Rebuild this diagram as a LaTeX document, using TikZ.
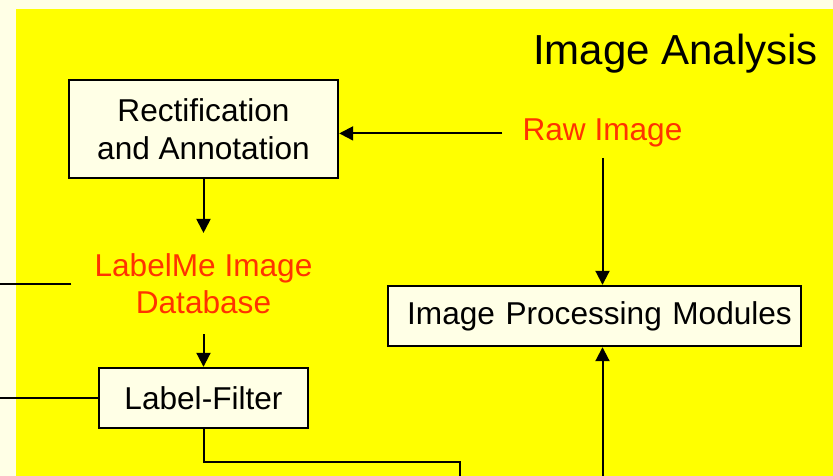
\documentclass[tikz,border=0pt]{standalone}
\usepackage{fontspec}
\setmainfont{Liberation Sans}
\usetikzlibrary{arrows.meta}
\definecolor{cream}{HTML}{FFFFE6}
\definecolor{panel}{HTML}{FFFF00}
\definecolor{labelred}{HTML}{FF3300}
\tikzset{
  body/.style={font=\fontsize{31.6}{37.5}\selectfont, align=center},
  stagebox/.style={body, draw=black, line width=2.4pt, fill=cream, inner sep=0pt},
  redlabel/.style={body, text=labelred},
  link/.style={line width=2pt, draw=black},
  arr/.style={link, -{Triangle[length=14pt,width=14pt]}},
}
\begin{document}
\begin{tikzpicture}[x=1pt, y=-1pt]
  \useasboundingbox (0,0) rectangle (833,476);
  \clip (0,0) rectangle (833,476);
  % backdrop and yellow panel
  \fill[cream] (0,0) rectangle (833,476);
  \fill[panel] (16,9) rectangle (833,476);

  % title
  \node[font=\fontsize{42}{50}\selectfont, anchor=base] (title) at (675.5,65) {Image Analysis};

  % stages
  \node[stagebox, minimum width=269pt, minimum height=98pt] (rect) at (203.5,129)
    {Rectification\\and Annotation};
  \node[redlabel, anchor=base, inner xsep=20pt, inner ysep=10pt] (raw) at (602.5,141) {Raw Image};
  \node[redlabel, inner xsep=23pt, inner ysep=20pt] (db) at (203.5,283.5) {LabelMe Image\\Database};
  \node[stagebox, minimum width=209pt, minimum height=60pt] (lf) at (203.5,398) {Label-Filter};
  \node[stagebox, anchor=west, text width=413pt, align=left,
        minimum height=60pt] (ip) at (387,316) {\hspace*{19pt}Image Processing Modules};

  % free ends of the connectors
  \coordinate (edge) at (0,0);
  \coordinate (bend) at (460,462);
  \coordinate (outA) at (460,490);
  \coordinate (outB) at (602.5,490);

  % connectors
  \draw[arr] (raw.west) -- (rect.east |- raw.west);
  \draw[arr] (raw.south) -- (raw.south |- ip.north);
  \draw[arr] (rect.south) -- (db.north);
  \draw[arr] (db.south) -- (lf.north);
  \draw[link] (db.west) -- (db.west -| edge);
  \draw[link] (lf.west) -- (lf.west -| edge);
  \draw[link] (lf.south) |- (bend) -- (outA);
  \draw[arr] (outB) -- (outB |- ip.south);
\end{tikzpicture}
\end{document}
